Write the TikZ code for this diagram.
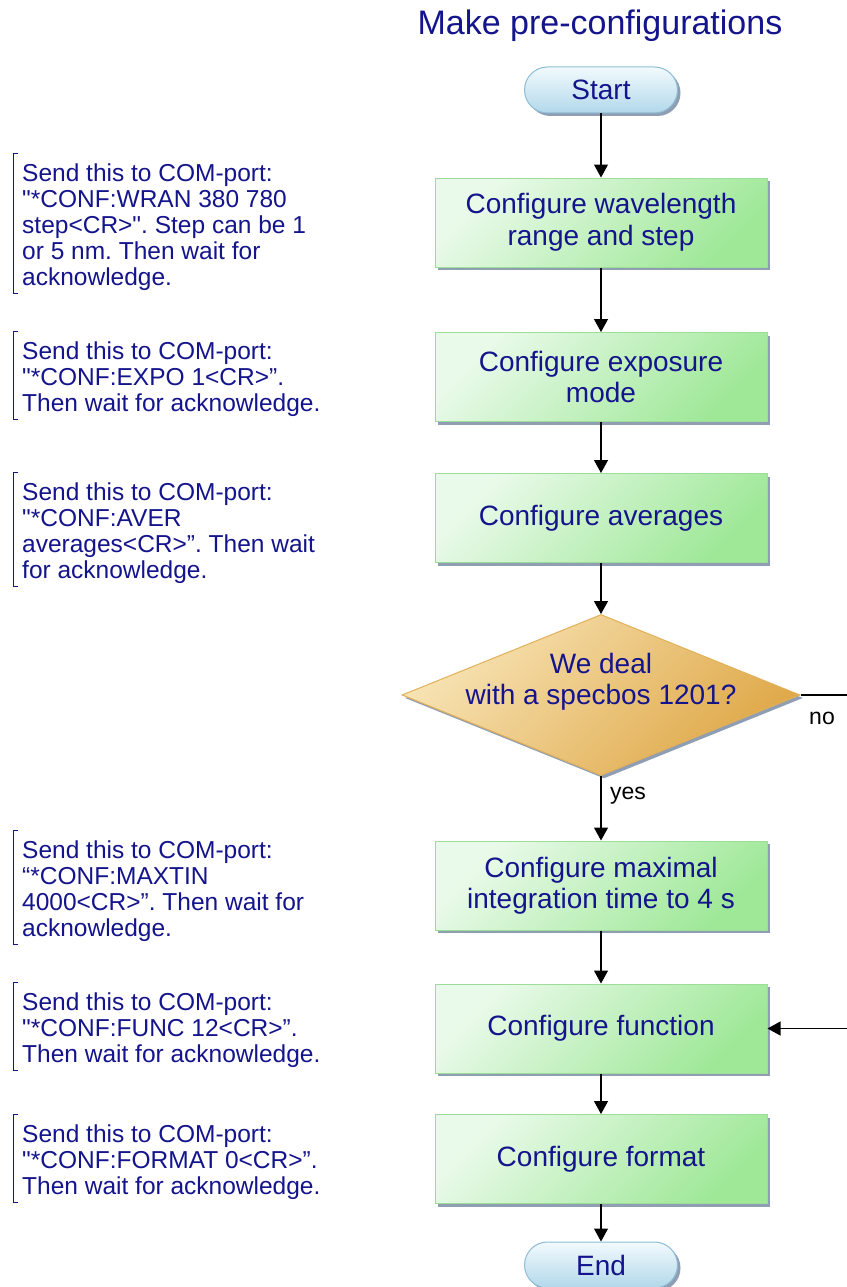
\documentclass[tikz,border=0pt]{standalone}
\usepackage{fontspec}
\setmainfont{Liberation Sans}[Ligatures=TeXOff]
\usetikzlibrary{arrows.meta,shapes.geometric,shadows}
\definecolor{txt}{HTML}{14148C}
\definecolor{gA}{HTML}{EAFAEA}
\definecolor{gB}{HTML}{9FE898}
\definecolor{gBorder}{HTML}{9CDE98}
\definecolor{tA}{HTML}{F2FAFD}
\definecolor{tB}{HTML}{B2D8EA}
\definecolor{tBorder}{HTML}{8EBCD6}
\definecolor{dA}{HTML}{F7E3B4}
\definecolor{dB}{HTML}{DFA848}
\definecolor{dBorder}{HTML}{E2B058}
\definecolor{shd}{HTML}{8494AC}
\newcommand\sq{\char34\relax}
\tikzset{
  shadowed/.style={drop shadow={shadow xshift=3pt,shadow yshift=-3pt,fill=shd,opacity=0.9}},
  procbox/.style={shadowed,draw=gBorder,line width=1pt,top color=gA,bottom color=gB,shading angle=45,
    minimum width=332pt,minimum height=89pt,align=center,text=txt,font=\fontsize{28}{31.5}\selectfont},
  termbox/.style={shadowed,draw=tBorder,line width=1pt,top color=tA,bottom color=tB,
    rounded corners=23pt,minimum width=153pt,minimum height=46pt,text=txt,font=\fontsize{28}{31.5}\selectfont},
  decision/.style={shadowed,diamond,draw=dBorder,line width=1pt,top color=dA,bottom color=dB,shading angle=45,
    minimum width=398pt,minimum height=161pt,inner sep=0pt},
  dtext/.style={align=center,text=txt,font=\fontsize{28}{31.5}\selectfont},
  note/.style={anchor=north west,inner sep=0pt,align=left,text=txt,font=\fontsize{24.5}{25.8}\selectfont},
  brk/.style={draw=txt,line width=1pt},
  arr/.style={draw=black,line width=1.2pt,-{Triangle[width=14pt,length=13pt]}},
  lbl/.style={text=black,font=\fontsize{23}{26}\selectfont},
  title/.style={text=txt,font=\fontsize{34}{38}\selectfont}
}
\newcommand\bracketfor[1]{\draw[brk] ([xshift=-4pt,yshift=11pt]#1.north west) -- ([xshift=-9pt,yshift=11pt]#1.north west) -- ([xshift=-9pt,yshift=-3pt]#1.south west) -- ([xshift=-4pt,yshift=-3pt]#1.south west);}
\frenchspacing
\begin{document}
\begin{tikzpicture}[x=1pt,y=-1pt]
\useasboundingbox[fill=white] (0,0) rectangle (846,1287);
\node[title] (t) at (600,26) {Make pre-configurations};
\node[termbox] (start) at (601,90) {Start};
\node[procbox] (b1) at (601,222.5) {Configure wavelength\\range and step};
\node[procbox] (b2) at (601,377) {Configure exposure\\mode};
\node[procbox] (b3) at (601,518) {Configure averages};
\node[decision,label={[dtext,yshift=13pt]center:We deal\\with a specbos 1201?}] (d) at (601,695) {};
\node[procbox] (b4) at (601,885.5) {Configure maximal\\integration time to 4 s};
\node[procbox] (b5) at (601,1028.5) {Configure function};
\node[procbox] (b6) at (601,1159) {Configure format};
\node[termbox] (end) at (601,1265) {End};
\coordinate (nocorner) at (849,695);
\node[lbl] (no) at (822,718) {no};
\node[lbl] (yes) at (628,796) {yes};
\draw[arr] (start) -- (b1);
\draw[arr] (b1) -- (b2);
\draw[arr] (b2) -- (b3);
\draw[arr] (b3) -- (d);
\draw[arr] (d) -- (b4);
\draw[arr] (b4) -- (b5);
\draw[arr] (b5) -- (b6);
\draw[arr] (b6) -- (end);
\draw[arr] (d.east) -- (nocorner) |- (b5.east);
\node[note] (n1) at (22,164) {Send this to COM-port:\\\sq*CONF:WRAN 380 780\\step<CR>\sq. Step can be 1\\or 5 nm. Then wait for\\acknowledge.};
\node[note] (n2) at (22,342) {Send this to COM-port:\\\sq*CONF:EXPO 1<CR>”.\\Then wait for acknowledge.};
\node[note] (n3) at (22,483) {Send this to COM-port:\\\sq*CONF:AVER\\averages<CR>”. Then wait\\for acknowledge.};
\node[note] (n4) at (22,841) {Send this to COM-port:\\“*CONF:MAXTIN\\4000<CR>”. Then wait for\\acknowledge.};
\node[note] (n5) at (22,993) {Send this to COM-port:\\\sq*CONF:FUNC 12<CR>”.\\Then wait for acknowledge.};
\node[note] (n6) at (22,1125) {Send this to COM-port:\\\sq*CONF:FORMAT 0<CR>”.\\Then wait for acknowledge.};
\bracketfor{n1}
\bracketfor{n2}
\bracketfor{n3}
\bracketfor{n4}
\bracketfor{n5}
\bracketfor{n6}
\end{tikzpicture}
\end{document}
